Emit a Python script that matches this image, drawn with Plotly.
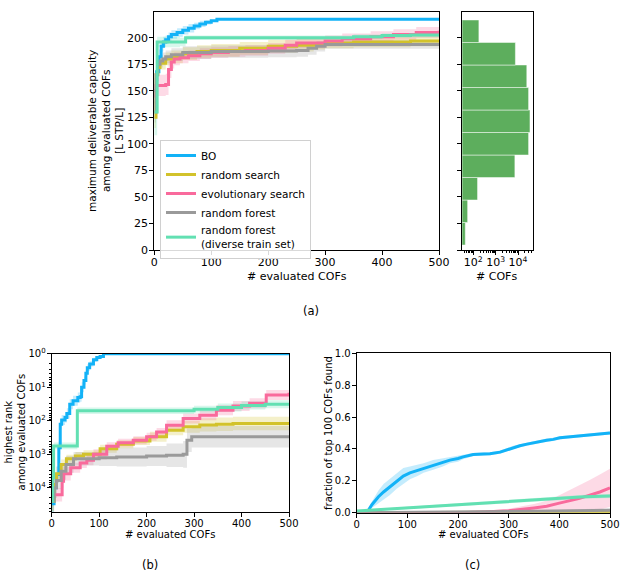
import numpy as np
import plotly.graph_objects as go

W, H = 623, 581
FONT = "DejaVu Sans"

# ---------------- data ----------------
series_names = ["BO", "random search", "evolutionary search", "random forest",
                "random forest<br>(diverse train set)"]
colors = ["#12B2F7", "#D2C22B", "#F96A9C", "#9A9A9A", "#62E0B2"]

# panel (a): max deliverable capacity
a_x = [
    [0, 4, 8, 12, 16, 20, 25, 30, 40, 50, 60, 70, 80, 90, 100, 110, 500],
    [0, 3, 6, 10, 20, 30, 50, 75, 100, 150, 200, 250, 280, 300, 350, 400, 450, 500],
    [0, 3, 20, 25, 30, 35, 45, 60, 80, 100, 130, 160, 200, 230, 250, 300, 330, 380, 420, 460, 500],
    [0, 3, 6, 10, 15, 20, 30, 50, 100, 150, 200, 250, 270, 285, 300, 500],
    [0, 5, 45, 55, 280, 350, 400, 450, 500],
]
a_y = [
    [150, 168, 182, 192, 196, 198, 201, 203, 205, 207, 209, 211, 213, 214.5, 216, 217.3, 217.3],
    [125, 165, 172, 176, 180, 182, 185, 187, 188, 190, 192, 193, 194, 195, 196, 196, 197, 197],
    [145, 155, 156, 170, 177, 180, 181, 183, 185, 186, 187, 188, 190, 193, 195, 197, 199, 201, 203, 205, 206.5],
    [130, 165, 175, 178, 180, 182, 184, 186, 187, 187, 187.5, 188, 190, 192, 193.5, 193.5],
    [130, 196, 196, 200, 200, 201, 202, 202.5, 203],
]
a_sd = [
    [12, 9, 7, 5, 5, 4, 4, 4, 4, 4, 4, 3, 3, 2, 1, 0, 0],
    [10, 8, 7, 6, 6, 6, 6, 6, 6, 6, 6, 6, 5, 5, 5, 5, 5, 5],
    [10, 10, 10, 8, 6, 6, 5, 5, 5, 5, 5, 5, 5, 5, 5, 5, 5, 5, 5, 5, 5],
    [10, 8, 6, 6, 6, 6, 6, 6, 6, 6, 6, 6, 6, 5, 4, 4],
    [22, 5, 4, 2, 2, 2, 2, 2, 2],
]

# histogram of capacities
bin_edges = [4.7, 25.9, 47.1, 68.3, 89.5, 110.7, 131.9, 153.1, 174.3, 195.5, 216.7]
bin_counts = [44, 56, 155, 7200, 29500, 34000, 29500, 24500, 7600, 178]

# panel (b): highest rank
b_x = [
    [0, 5, 10, 15, 18, 21, 28, 32, 38, 45, 55, 60, 63, 68, 72, 75, 80, 88, 95, 102, 109, 500],
    [0, 5, 10, 20, 31, 50, 67, 102, 137, 172, 207, 242, 277, 312, 347, 382, 500],
    [0, 17, 22, 25, 40, 60, 74, 88, 116, 140, 172, 200, 221, 242, 277, 312, 347, 382, 417, 452, 500],
    [0, 5, 10, 20, 30, 46, 100, 137, 200, 242, 277, 285, 295, 500],
    [0, 2, 4, 50, 54, 300, 350, 400, 450, 500],
]
b_rank = [
    [30000, 10000, 4000, 630, 126, 95, 80, 60, 32, 25, 20, 19, 10, 6.3, 3.8, 2.6, 2.0, 1.5, 1.3, 1.2, 1, 1],
    [25000, 8000, 3800, 2000, 1350, 1120, 1000, 680, 500, 400, 300, 190, 150, 132, 126, 120, 120],
    [16000, 16000, 6300, 3800, 2500, 1800, 1500, 1000, 575, 450, 380, 300, 214, 135, 85, 68, 48, 36, 30, 17, 14.5],
    [25000, 10000, 6000, 3200, 2000, 1350, 1260, 1200, 1120, 1070, 1000, 380, 300, 300],
    [25000, 5000, 560, 560, 50, 45, 40, 35, 32, 29],
]
b_sd = [  # spread in decades
    [0.3, 0.3, 0.25, 0.2, 0.15, 0.15, 0.15, 0.15, 0.15, 0.15, 0.15, 0.15, 0.15, 0.12, 0.1, 0.1, 0.08, 0.06, 0.05, 0.03, 0, 0],
    [0.3, 0.25, 0.2, 0.15, 0.12, 0.12, 0.12, 0.12, 0.12, 0.12, 0.15, 0.15, 0.18, 0.2, 0.2, 0.2, 0.2],
    [0.2, 0.2, 0.2, 0.2, 0.15, 0.15, 0.15, 0.15, 0.12, 0.12, 0.12, 0.12, 0.12, 0.15, 0.15, 0.15, 0.15, 0.15, 0.15, 0.15, 0.15],
    [0.3, 0.3, 0.25, 0.25, 0.25, 0.2, 0.25, 0.28, 0.3, 0.35, 0.4, 0.35, 0.32, 0.32],
    [0.3, 0.3, 0.1, 0.1, 0.1, 0.1, 0.12, 0.12, 0.12, 0.12],
]

# panel (c): fraction of top 100 found
c_x = [
    [0, 20, 30, 43, 53, 65, 79, 92, 105, 120, 132, 151, 170, 184, 200, 210, 230, 250, 263, 283, 296,
     309, 322, 336, 350, 362, 375, 388, 401, 417, 434, 450, 467, 483, 500],
    [0, 200, 400, 500],
    [0, 200, 250, 300, 350, 375, 400, 420, 440, 460, 480, 500],
    [0, 300, 400, 500],
    [0, 50, 100, 150, 200, 250, 300, 350, 400, 450, 500],
]
c_y = [
    [0, 0, 0.05, 0.1, 0.13, 0.16, 0.2, 0.23, 0.25, 0.265, 0.28, 0.3, 0.315, 0.33, 0.34, 0.35, 0.365,
     0.37, 0.37, 0.38, 0.395, 0.41, 0.42, 0.43, 0.44, 0.445, 0.455, 0.46, 0.47, 0.475, 0.48, 0.485,
     0.49, 0.495, 0.5],
    [0, 0, 0.002, 0.004],
    [0, 0, 0.005, 0.012, 0.03, 0.04, 0.06, 0.075, 0.09, 0.11, 0.13, 0.155],
    [0, 0.005, 0.01, 0.015],
    [0.01, 0.02, 0.03, 0.04, 0.05, 0.06, 0.07, 0.08, 0.09, 0.1, 0.105],
]
c_sd = [
    [0, 0, 0.02, 0.04, 0.05, 0.05, 0.05, 0.05, 0.04, 0.035, 0.03, 0.03, 0.025, 0.02, 0.02, 0.015,
     0.01, 0.01, 0.01, 0.01, 0.01, 0.01, 0.01, 0.01, 0.01, 0.01, 0.01, 0.01, 0.01, 0.01, 0.01, 0.01,
     0.01, 0.01, 0.01],
    [0, 0, 0.004, 0.006],
    [0, 0, 0.005, 0.012, 0.025, 0.035, 0.05, 0.065, 0.08, 0.095, 0.11, 0.12],
    [0, 0.005, 0.01, 0.012],
    [0.005, 0.005, 0.008, 0.008, 0.01, 0.01, 0.01, 0.01, 0.012, 0.012, 0.012],
]

# ---------------- figure ----------------
def rgba(hexc, a):
    h = hexc.lstrip("#")
    return f"rgba({int(h[0:2],16)},{int(h[2:4],16)},{int(h[4:6],16)},{a})"

def px_x(p):
    return p / W

def px_y(p):
    return 1 - p / H

fig = go.Figure()

def add_band(xs, lo, hi, col, xa, ya, shape="hv"):
    fig.add_trace(go.Scatter(x=xs, y=lo, mode="lines", line=dict(width=0, shape=shape),
                             hoverinfo="skip", showlegend=False, xaxis=xa, yaxis=ya))
    fig.add_trace(go.Scatter(x=xs, y=hi, mode="lines", line=dict(width=0, shape=shape),
                             fill="tonexty", fillcolor=rgba(col, 0.25),
                             hoverinfo="skip", showlegend=False, xaxis=xa, yaxis=ya))

# panel a
for i in range(5):
    m = np.array(a_y[i]); s = np.array(a_sd[i])
    add_band(a_x[i], m - s, m + s, colors[i], "x", "y")
for i in range(5):
    fig.add_trace(go.Scatter(x=a_x[i], y=a_y[i], mode="lines", name=series_names[i],
                             line=dict(color=colors[i], width=3, shape="hv"),
                             xaxis="x", yaxis="y", showlegend=True))

# histogram
centers = [(bin_edges[k] + bin_edges[k + 1]) / 2 for k in range(len(bin_counts))]
widths = [bin_edges[k + 1] - bin_edges[k] for k in range(len(bin_counts))]
fig.add_trace(go.Bar(y=centers, x=bin_counts, width=widths, orientation="h",
                     marker=dict(color="#5DAE5D", line=dict(color="rgba(255,255,255,0.6)", width=0.8)),
                     xaxis="x2", yaxis="y2", showlegend=False))

# panel b
for i in range(5):
    lr = np.log10(np.array(b_rank[i], dtype=float)); s = np.array(b_sd[i])
    add_band(b_x[i], 10 ** (lr - s), 10 ** (lr + s), colors[i], "x3", "y3")
for i in range(5):
    fig.add_trace(go.Scatter(x=b_x[i], y=b_rank[i], mode="lines",
                             line=dict(color=colors[i], width=3, shape="hv"),
                             xaxis="x3", yaxis="y3", showlegend=False))

# panel c
for i in range(5):
    m = np.array(c_y[i]); s = np.array(c_sd[i])
    add_band(c_x[i], np.clip(m - s, 0, None), m + s, colors[i], "x4", "y4", shape="linear")
for i in range(5):
    fig.add_trace(go.Scatter(x=c_x[i], y=c_y[i], mode="lines",
                             line=dict(color=colors[i], width=3, shape="linear"),
                             xaxis="x4", yaxis="y4", showlegend=False))

ax_common = dict(showline=True, linecolor="black", linewidth=1, mirror=True, showgrid=False,
                 zeroline=False, ticks="outside", ticklen=4, tickcolor="black", tickwidth=1,
                 automargin=False)
xlab = dict(ticklabelstandoff=-2)
ylab = dict(ticklabelstandoff=-1)

minor_log = [m * 10 ** e for e in range(0, 5) for m in range(2, 10)]

fig.update_layout(
    template="none",
    width=W, height=H, margin=dict(l=0, r=0, t=0, b=0, autoexpand=False),
    plot_bgcolor="white", paper_bgcolor="white",
    font=dict(family=FONT, color="black", size=11),
    xaxis=dict(domain=[px_x(154.3), px_x(439)], anchor="y", range=[0, 500],
               tickvals=[0, 100, 200, 300, 400, 500], tickfont=dict(size=11), **ax_common, **xlab),
    yaxis=dict(domain=[px_y(250), px_y(11.7)], anchor="x", range=[0, 224.5],
               tickvals=[0, 25, 50, 75, 100, 125, 150, 175, 200], tickfont=dict(size=11),
               **ax_common, **ylab),
    xaxis2=dict(domain=[px_x(462.3), px_x(533.3)], anchor="y2", type="log", range=[1.51, 4.68],
                tickvals=[100, 1000, 10000],
                ticktext=["10<sup>2</sup>", "10<sup>3</sup>", "10<sup>4</sup>"],
                tickfont=dict(size=11),
                minor=dict(tickvals=minor_log, ticks="outside", ticklen=2, tickcolor="black"),
                **ax_common, **xlab),
    yaxis2=dict(domain=[px_y(250), px_y(11.7)], anchor="x2", range=[0, 224.5],
                tickvals=[0, 25, 50, 75, 100, 125, 150, 175, 200], showticklabels=False,
                **ax_common),
    xaxis3=dict(domain=[px_x(51.7), px_x(289)], anchor="y3", range=[0, 500],
                tickvals=[0, 100, 200, 300, 400, 500], tickfont=dict(size=10), **ax_common, **xlab),
    yaxis3=dict(domain=[px_y(512), px_y(353.8)], anchor="x3", type="log", range=[4.72, 0],
                tickvals=[1, 10, 100, 1000, 10000],
                ticktext=["10<sup>0</sup>", "10<sup>1</sup>", "10<sup>2</sup>", "10<sup>3</sup>", "10<sup>4</sup>"],
                tickfont=dict(size=10),
                minor=dict(tickvals=minor_log, ticks="outside", ticklen=2, tickcolor="black"),
                **ax_common, **ylab),
    xaxis4=dict(domain=[px_x(356.7), px_x(610)], anchor="y4", range=[0, 1] if False else [0, 500],
                tickvals=[0, 100, 200, 300, 400, 500], tickfont=dict(size=10), **ax_common, **xlab),
    yaxis4=dict(domain=[px_y(512.7), px_y(353.3)], anchor="x4", range=[0, 1],
                tickvals=[0, 0.2, 0.4, 0.6, 0.8, 1.0], tickformat=".1f", tickfont=dict(size=10),
                **ax_common, **ylab),
    legend=dict(x=px_x(160), y=px_y(140), xanchor="left", yanchor="top",
                bgcolor="rgba(255,255,255,0.85)", bordercolor="#d0d0d0", borderwidth=1,
                font=dict(size=10.5), tracegroupgap=0, itemwidth=30, traceorder="normal"),
    showlegend=True,
)

def ann(text, x, y, size, angle=0):
    fig.add_annotation(text=text, x=px_x(x), y=px_y(y), xref="paper", yref="paper",
                       showarrow=False, xanchor="center", yanchor="middle",
                       textangle=angle, font=dict(size=size, family=FONT, color="black"))

ann("maximum deliverable capacity<br>among evaluated COFs<br>[L STP/L]", 105, 131, 10.5, -90)
ann("# evaluated COFs", 296.6, 276, 11)
ann("# COFs", 497, 276, 11)
ann("(a)", 311, 311, 11.5)
ann("highest rank<br>among evaluated COFs", 14.5, 432, 10, -90)
ann("# evaluated COFs", 170, 534, 10)
ann("(b)", 150, 565, 11.5)
ann("fraction of top 100 COFs found", 328, 433, 10, -90)
ann("# evaluated COFs", 483, 534, 10)
ann("(c)", 472, 565, 11.5)

fig.write_html("out.html")
